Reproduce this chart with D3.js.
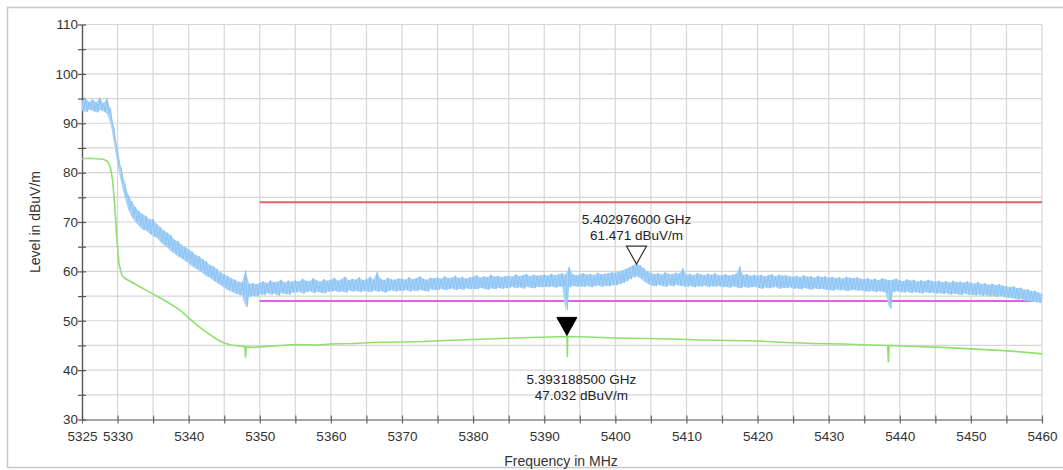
<!DOCTYPE html>
<html><head><meta charset="utf-8">
<script src="https://cdn.jsdelivr.net/npm/d3@7"></script>
<style>
html,body{margin:0;padding:0;background:#fff;}
svg{display:block;font-family:"Liberation Sans",Arial,sans-serif;}
</style></head>
<body><svg id="chart" width="1063" height="470"></svg>
<script>
// ---- data ----
const freqStart = 5325;   // MHz, first sample of the sweep
const freqStep = 0.5;     // MHz between samples of the peak trace
// peak detector trace: upper and lower edge of the noisy band per sample
const peakUpper = [
94.6,95.0,94.3,94.8,94.2,95.2,94.0,95.0,93.0,89.0,
84.5,81.0,78.0,75.5,74.2,73.0,72.2,71.6,71.2,70.5,
70.6,69.6,69.0,68.3,67.8,67.3,66.4,66.1,65.4,64.9,
64.5,64.0,63.3,63.0,62.4,62.0,61.3,61.0,60.5,59.8,
59.4,59.0,58.6,58.3,57.9,57.8,60.2,57.5,57.6,57.4,
57.7,58.0,57.6,58.2,57.8,57.9,58.3,57.7,58.1,57.9,
58.2,57.9,58.5,58.1,58.0,58.6,58.2,57.9,58.4,58.1,
58.3,58.7,58.1,58.4,58.9,58.2,58.5,58.3,58.8,58.2,
58.4,58.9,58.3,59.8,58.5,58.2,58.7,58.4,58.3,58.6,
58.5,58.3,58.8,58.4,58.6,59.0,58.5,58.3,58.7,58.6,
58.8,58.5,59.0,58.6,58.7,59.1,58.6,58.9,58.5,58.8,
58.9,59.2,58.7,59.0,58.8,59.3,58.9,59.1,58.8,59.0,
59.1,58.9,59.4,59.0,59.2,59.5,59.0,59.3,59.1,59.2,
59.3,59.1,59.5,59.2,59.4,59.6,59.3,60.9,59.4,59.2,
59.4,59.6,59.3,59.5,59.2,59.7,59.4,59.5,59.6,59.8,
59.7,59.9,60.2,60.5,60.9,61.2,61.6,61.2,60.6,60.0,
59.7,59.4,59.6,59.3,59.8,59.5,59.4,59.7,59.5,60.6,
59.3,59.5,59.2,59.6,59.4,59.2,59.5,59.3,59.6,59.2,
59.2,59.4,59.1,59.3,59.5,61.0,59.2,59.4,59.1,59.3,
59.1,59.3,59.0,59.2,59.4,59.0,59.3,59.1,59.2,59.0,
58.9,59.1,58.8,59.2,58.9,59.0,58.7,59.1,58.8,59.0,
58.7,58.9,58.6,58.8,58.5,58.9,58.7,58.6,58.8,58.5,
58.4,58.6,58.3,58.5,58.2,58.6,58.4,58.2,58.3,58.5,
58.2,58.0,58.4,58.1,58.3,57.9,58.2,58.0,58.3,58.1,
57.9,58.1,57.8,58.0,57.7,58.1,57.8,57.9,57.7,58.0,
57.7,57.5,57.8,57.4,57.6,57.3,57.5,57.2,57.4,57.1,
57.0,56.8,57.0,56.6,56.7,56.3,56.4,56.0,56.1,55.7,
55.4
];
const peakLower = [
92.6,92.3,92.8,92.5,92.2,92.7,92.4,92.0,90.0,86.0,
81.5,78.0,75.0,72.5,71.0,70.0,69.2,68.5,68.3,67.6,
67.1,66.8,66.0,65.3,64.8,64.1,63.6,63.0,62.6,62.1,
61.6,61.0,60.6,60.1,59.6,59.0,58.7,58.1,57.6,57.2,
56.7,56.2,55.9,55.5,55.3,55.1,52.8,54.9,55.0,54.9,
55.4,55.2,55.6,55.3,55.5,55.1,55.6,55.4,55.3,55.7,
55.7,55.9,55.5,55.8,56.0,55.6,55.9,55.7,55.5,55.9,
55.9,56.1,55.8,56.0,55.7,56.2,55.9,56.1,55.8,56.0,
56.0,55.8,56.2,55.9,56.1,55.7,56.0,56.2,55.9,56.1,
56.1,56.3,55.9,56.2,56.0,56.3,56.1,55.9,56.4,56.2,
56.3,56.5,56.2,56.4,56.6,56.2,56.5,56.3,56.6,56.4,
56.5,56.4,56.7,56.5,56.3,56.6,56.4,56.7,56.5,56.6,
56.7,56.9,56.6,56.8,56.5,56.9,56.7,56.6,56.9,56.8,
56.9,56.8,57.0,56.7,56.9,57.0,52.2,56.8,57.1,56.9,
57.0,56.9,57.1,56.8,57.0,57.2,56.9,57.1,57.0,57.2,
57.2,57.4,57.6,58.0,58.4,58.8,59.0,58.6,58.0,57.5,
57.2,57.0,57.3,57.1,56.9,57.2,57.0,57.3,57.1,57.0,
56.9,57.1,56.8,57.0,56.9,57.2,56.8,57.0,56.9,57.1,
56.8,56.9,56.7,57.0,56.8,56.6,56.9,56.7,56.8,56.9,
56.7,56.5,56.8,56.6,56.7,56.9,56.5,56.7,56.6,56.8,
56.5,56.6,56.4,56.7,56.5,56.3,56.6,56.4,56.5,56.3,
56.3,56.1,56.4,56.2,56.3,56.0,56.2,56.3,56.1,56.2,
56.0,55.9,56.1,55.8,56.0,55.9,55.7,52.5,55.8,56.0,
55.8,55.7,55.9,55.6,55.8,55.7,55.5,55.8,55.6,55.7,
55.5,55.6,55.4,55.6,55.3,55.5,55.4,55.2,55.5,55.3,
55.3,55.1,55.3,55.0,55.2,54.9,55.1,54.8,55.0,54.8,
54.7,54.6,54.5,54.3,54.4,54.1,54.0,53.9,53.8,53.7,
53.6
];
// average detector trace
const avgFreq = [5325,5326,5327,5328,5328.6,5329.0,5329.3,5329.6,5329.9,5330.2,5330.6,5331,5332,5333,5334,5335,5336,5337,5338,5339,5340,5341,5342,5343,5344,5345,5346,5347,5347.9,5348.0,5348.1,5349,5350,5352,5355,5358,5360,5363,5366,5370,5373,5376,5380,5384,5388,5391,5393.1,5393.2,5393.25,5393.3,5396,5400,5404,5408,5412,5416,5420,5424,5428,5432,5436,5438.3,5438.4,5438.5,5442,5446,5450,5454,5457,5460];
const avgLevel = [82.8,82.9,82.8,82.7,82.3,81.0,78.5,73.5,66.5,61.5,59.3,58.6,57.8,57.0,56.2,55.4,54.6,53.8,52.9,51.9,50.6,49.3,48.2,47.2,46.2,45.5,45.1,44.9,44.8,42.5,44.7,44.6,44.7,44.9,45.2,45.1,45.3,45.4,45.6,45.7,45.8,46.0,46.2,46.4,46.6,46.7,46.8,47.0,42.6,46.8,46.7,46.5,46.4,46.3,46.1,46.0,45.9,45.6,45.4,45.3,45.1,45.0,41.6,45.0,44.8,44.6,44.3,44.0,43.7,43.3];
const limitPeak = {from:5350, to:5460, level:74};
const limitAvg  = {from:5350, to:5460, level:54};
const markerFreq  = [5402.976, 5393.1885];
const markerLevel = [61.471, 47.032];
const markerLabelF = ["5.402976000 GHz", "5.393188500 GHz"];
const markerLabelL = ["61.471 dBuV/m", "47.032 dBuV/m"];
const xTickLabels = [5325,5330,5340,5350,5360,5370,5380,5390,5400,5410,5420,5430,5440,5450,5460];
const yTickLabels = [30,40,50,60,70,80,90,100,110];

// ---- layout ----
const svg = d3.select("#chart");
const x = d3.scaleLinear().domain([5325,5460]).range([82,1042]);
const y = d3.scaleLinear().domain([30,110]).range([419.5,24.5]);
const FONT = "Liberation Sans, Arial, sans-serif";

// outer frame
svg.append("rect").attr("x",7.5).attr("y",7.5).attr("width",1070).attr("height",460)
  .attr("fill","none").attr("stroke","#c8c8c8").attr("stroke-width",1.5);

// grid
const g = svg.append("g");
const xMinor = d3.range(5330,5460.1,5);
const yMinor = d3.range(35,110.1,5);
g.selectAll(".vg").data(xMinor).join("line")
  .attr("x1",d=>x(d)).attr("x2",d=>x(d)).attr("y1",y(110)).attr("y2",y(30))
  .attr("stroke","#d6d6d6").attr("stroke-width",1.2);
g.selectAll(".hg").data(yMinor).join("line")
  .attr("y1",d=>y(d)).attr("y2",d=>y(d)).attr("x1",x(5325)).attr("x2",x(5460))
  .attr("stroke","#d6d6d6").attr("stroke-width",1.2);

// axes
const xAxis = d3.axisBottom(x).tickValues(d3.range(5325,5460.1,5))
  .tickSizeInner(0).tickSizeOuter(0)
  .tickFormat(d=> xTickLabels.includes(d) ? d : "");
const xa = svg.append("g").attr("transform",`translate(0,${y(30)})`).call(xAxis);
xa.select(".domain").attr("stroke","#888").attr("stroke-width",1.3);
xa.selectAll(".tick line").attr("y1",-4).attr("y2",4).attr("stroke","#666").attr("stroke-width",1.2);
xa.selectAll(".tick text").attr("dy",0).attr("y",21).attr("font-size",13.5)
  .attr("fill","#333").attr("font-family",FONT);

const yAxis = d3.axisLeft(y).tickValues(d3.range(30,110.1,5))
  .tickSizeInner(0).tickSizeOuter(0)
  .tickFormat(d=> yTickLabels.includes(d) ? d : "");
const ya = svg.append("g").attr("transform",`translate(${x(5325)},0)`).call(yAxis);
ya.select(".domain").attr("stroke","#555").attr("stroke-width",1.4);
ya.selectAll(".tick line").attr("x1",-4).attr("x2",4).attr("stroke","#555").attr("stroke-width",1.2);
ya.selectAll(".tick text").attr("x",-4).attr("font-size",13.5)
  .attr("fill","#333").attr("font-family",FONT);

// axis titles
svg.append("text").attr("x",561).attr("y",466).attr("text-anchor","middle")
  .attr("font-size",14).attr("fill","#333").text("Frequency in MHz");
svg.append("text").attr("transform","translate(40,222) rotate(-90)").attr("text-anchor","middle")
  .attr("font-size",14).attr("fill","#333").text("Level in dBuV/m");

// limit lines
[[limitPeak,"#e06666"],[limitAvg,"#e060e0"]].forEach(([l,c])=>{
  svg.append("line").attr("x1",x(l.from)).attr("x2",x(l.to)).attr("y1",y(l.level)).attr("y2",y(l.level))
    .attr("stroke",c).attr("stroke-width",2);
});

// average trace (green)
const avgData = avgFreq.map((f,i)=>[f,avgLevel[i]]);
svg.append("path").datum(avgData)
  .attr("d",d3.line().x(d=>x(d[0])).y(d=>y(d[1])))
  .attr("fill","none").attr("stroke","#8fe070").attr("stroke-width",1.6);

// peak trace (blue): band between the edges plus a sweep zig-zag
const peakData = peakUpper.map((u,i)=>({f:freqStart+i*freqStep, hi:u, lo:peakLower[i]}));
svg.append("path").datum(peakData)
  .attr("d",d3.area().x(d=>x(d.f)).y0(d=>y(d.lo)).y1(d=>y(d.hi)))
  .attr("fill","#a9d3f8").attr("stroke","none");
const zig = [];
peakData.forEach((d,i)=>{
  zig.push([d.f, d.hi]);
  if(i<peakData.length-1) zig.push([d.f+freqStep/2, d.lo]);
});
svg.append("path").datum(zig)
  .attr("d",d3.line().x(d=>x(d[0])).y(d=>y(d[1])))
  .attr("fill","none").attr("stroke","#8cc3f3").attr("stroke-width",1);

// markers
markerFreq.forEach((f,i)=>{
  const mx = x(f), my = y(markerLevel[i]);
  const tri = `M${mx},${my} L${mx-10},${my-18} L${mx+10},${my-18} Z`;
  if(i===0){
    svg.append("path").attr("d",tri).attr("fill","#fff").attr("stroke","#333").attr("stroke-width",1.2);
    svg.append("text").attr("x",mx).attr("y",my-40).attr("text-anchor","middle").attr("font-size",13.5)
      .attr("fill","#222").text(markerLabelF[i]);
    svg.append("text").attr("x",mx).attr("y",my-24).attr("text-anchor","middle").attr("font-size",13.5)
      .attr("fill","#222").text(markerLabelL[i]);
  } else {
    svg.append("path").attr("d",tri).attr("fill","#000").attr("stroke","#000").attr("stroke-width",1);
    svg.append("text").attr("x",mx+14.5).attr("y",my+49).attr("text-anchor","middle").attr("font-size",13.5)
      .attr("fill","#222").text(markerLabelF[i]);
    svg.append("text").attr("x",mx+14.5).attr("y",my+65).attr("text-anchor","middle").attr("font-size",13.5)
      .attr("fill","#222").text(markerLabelL[i]);
  }
});
</script>
</body></html>
